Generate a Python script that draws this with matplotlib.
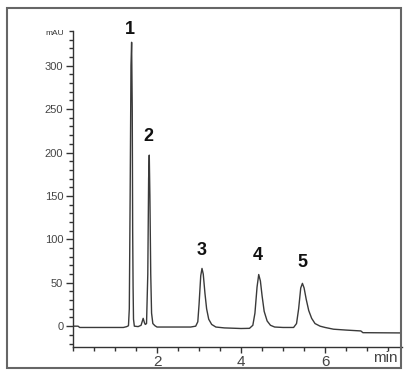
import matplotlib.pyplot as plt
from matplotlib.patches import Rectangle
from matplotlib.ticker import MultipleLocator

# chromatogram trace (min, mAU)
t = [0.00, 0.12, 0.16, 0.80, 1.20, 1.28, 1.32, 1.34, 1.36, 1.38, 1.395, 1.41,
     1.42, 1.43, 1.44, 1.46, 1.55, 1.62, 1.67, 1.70, 1.72, 1.75, 1.78, 1.80,
     1.815, 1.83, 1.85, 1.87, 1.90, 1.95, 2.00, 2.40, 2.80, 2.92, 2.97, 3.00,
     3.04, 3.07, 3.10, 3.14, 3.18, 3.23, 3.30, 3.40, 3.60, 4.00, 4.20, 4.28,
     4.33, 4.38, 4.42, 4.46, 4.50, 4.55, 4.62, 4.70, 4.80, 5.00, 5.25, 5.32,
     5.37, 5.42, 5.46, 5.50, 5.55, 5.61, 5.68, 5.76, 5.88, 6.00, 6.20, 6.50,
     6.85, 6.90, 7.83]
signal = [0, 0, -1.5, -1.5, -1.5, -0.5, 0.5, 20, 150, 300, 327, 250,
          110, 45, 8, 0, -0.5, 1, 9, 4, 2, 3, 60, 170,
          197, 150, 60, 15, 3, 0.5, -1, -1, -1, 0, 5, 25,
          58, 66.5, 60, 38, 20, 8, 2, -1, -2, -2.7, -2.5, 1,
          15, 45, 59.5, 52, 35, 17, 6, 1, -1, -1.5, -1.5, 3,
          20, 44, 49.3, 44, 31, 18, 9, 3, 0, -1.5, -3.5, -4.5,
          -5.5, -7.5, -7.8]

peak_labels = ['1', '2', '3', '4', '5']
peak_t = [1.36, 1.80, 3.06, 4.40, 5.46]
peak_y = [342, 218, 87, 81, 73]

plt.rcParams['font.family'] = ['Liberation Sans', 'DejaVu Sans']

fig = plt.figure(figsize=(4.13, 3.76), dpi=100)
ax = fig.add_axes([73/413, 29/376, 329/413, 316/376])

ax.plot(t, signal, color='#3a3a3a', lw=1.0)

for lab, x, y in zip(peak_labels, peak_t, peak_y):
    ax.text(x, y, lab, ha='center', va='center', fontsize=13,
            fontweight='bold', color='#111111', clip_on=False)

ax.set_xlim(0, 7.83)
ax.set_ylim(-24, 340)
ax.xaxis.set_minor_locator(MultipleLocator(0.5))
ax.yaxis.set_minor_locator(MultipleLocator(10))
ax.set_xticks([2, 4, 6])
ax.set_yticks([0, 50, 100, 150, 200, 250, 300])

for s in ['top', 'right']:
    ax.spines[s].set_visible(False)
for s in ['left', 'bottom']:
    ax.spines[s].set_color('#333333')
    ax.spines[s].set_linewidth(1.0)

ax.tick_params(axis='y', which='major', length=5, width=1, color='#333333',
               labelsize=8, labelcolor='#444444', pad=2)
ax.tick_params(axis='x', which='major', length=4, width=1, color='#333333',
               labelsize=11, labelcolor='#444444', pad=2)
ax.tick_params(which='minor', length=3, width=1, color='#333333')

ax.text(-0.22, 337, 'mAU', ha='right', va='center', fontsize=6,
        color='#333333', clip_on=False)
ax.text(7.43, -37, 'min', ha='center', va='center', fontsize=11,
        color='#444444', clip_on=False)

# outer frame around the whole chart
fig.patches.append(Rectangle((7/413, 8/376), 394/413, 360/376,
                             transform=fig.transFigure, fill=False,
                             edgecolor='#666666', lw=1.5))

fig.savefig('out.png', dpi=100)
